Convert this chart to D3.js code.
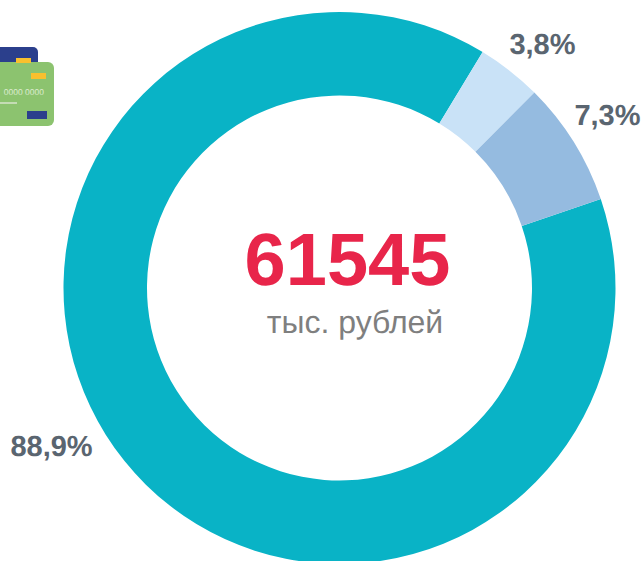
<!DOCTYPE html>
<html>
<head>
<meta charset="utf-8">
<style>
html, body { margin: 0; padding: 0; background: #fff; overflow: hidden; }
text { font-family: "Liberation Sans", Arial, sans-serif; text-rendering: geometricPrecision; }
</style>
<script src="https://cdn.jsdelivr.net/npm/d3@7"></script>
</head>
<body>
<div id="chart"></div>
<script>
var categories = ['a', 'b', 'c'];
var shares = [88.9, 3.8, 7.3];
var shareLabels = ['88,9%', '3,8%', '7,3%'];
var sliceColors = ['#09b3c6', '#c9e2f7', '#95bbe0'];
var totalValue = '61545';
var totalUnit = 'тыс. рублей';

var width = 643, height = 561;
var cx = 339.5, cy = 288;
var outerR = 276, innerR = 192.5;

var svg = d3.select('#chart').append('svg')
    .attr('width', width)
    .attr('height', height)
    .style('display', 'block');

var start = 71.2 * Math.PI / 180;
var pie = d3.pie().sort(null)
    .startAngle(start)
    .endAngle(start + 2 * Math.PI);
var arc = d3.arc().innerRadius(innerR).outerRadius(outerR);
var slices = pie(shares);

svg.append('g')
    .attr('transform', 'translate(' + cx + ',' + cy + ')')
    .selectAll('path')
    .data(slices)
    .enter().append('path')
    .attr('d', arc)
    .attr('fill', function(d, i) { return sliceColors[i]; });

// label spots, set by hand like the original slide
var labelPos = [[51.5, 456], [542.5, 54], [607.5, 125]];
svg.selectAll('text.share')
    .data(shareLabels)
    .enter().append('text')
    .attr('class', 'share')
    .attr('x', function(d, i) { return labelPos[i][0]; })
    .attr('y', function(d, i) { return labelPos[i][1]; })
    .attr('text-anchor', 'middle')
    .attr('font-size', 29)
    .attr('font-weight', 'bold')
    .attr('fill', '#5a6570')
    .text(function(d) { return d; });

svg.append('text')
    .attr('x', 347.5).attr('y', 285)
    .attr('text-anchor', 'middle')
    .attr('font-size', 74)
    .attr('font-weight', 'bold')
    .attr('fill', '#e8254a')
    .text(totalValue);

svg.append('text')
    .attr('x', 355).attr('y', 333)
    .attr('text-anchor', 'middle')
    .attr('font-size', 32)
    .attr('fill', '#7f7f7f')
    .text(totalUnit);

// card icon, cut off by the left edge
var icon = svg.append('g');
icon.append('rect').attr('x', -30).attr('y', 47).attr('width', 68).attr('height', 40).attr('rx', 5).attr('fill', '#2b3f8c');
icon.append('rect').attr('x', -30).attr('y', 62).attr('width', 84).attr('height', 64).attr('rx', 6).attr('fill', '#8cc36f');
icon.append('rect').attr('x', 16).attr('y', 58).attr('width', 15).attr('height', 5).attr('fill', '#f9c02e');
icon.append('rect').attr('x', 31).attr('y', 73).attr('width', 15).attr('height', 6).attr('fill', '#f9c02e');
icon.append('rect').attr('x', 27).attr('y', 111).attr('width', 20).attr('height', 8).attr('fill', '#2b3f8c');
icon.append('rect').attr('x', 0).attr('y', 102).attr('width', 17).attr('height', 2).attr('fill', '#c4dcb4');
icon.append('text').attr('x', 44).attr('y', 95).attr('text-anchor', 'end')
    .attr('font-size', 8.5).attr('fill', '#dcebd0').text('0000 0000');
</script>
</body>
</html>
